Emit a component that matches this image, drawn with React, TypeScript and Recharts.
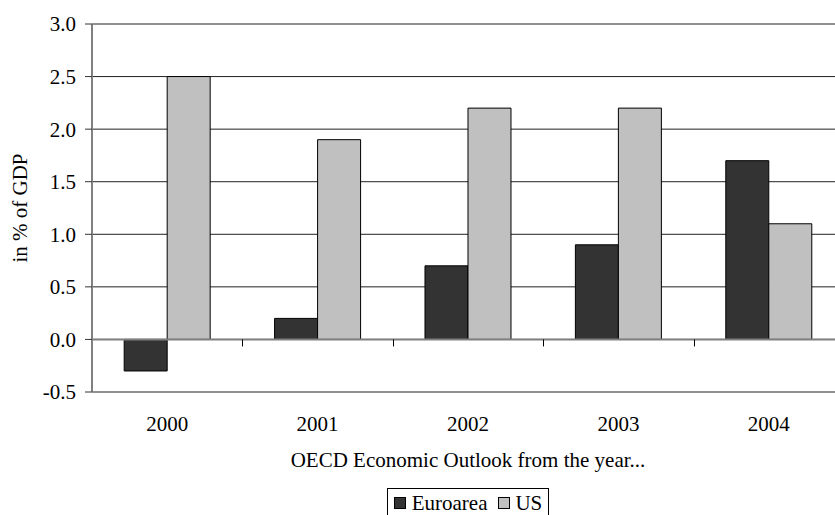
import React from 'react';
import {
  BarChart,
  Bar,
  XAxis,
  YAxis,
  CartesianGrid,
  Legend,
  ReferenceLine,
} from 'recharts';

// Forecast balances by outlook year, in % of GDP
const years = ['2000', '2001', '2002', '2003', '2004'];
const euroarea = [-0.3, 0.2, 0.7, 0.9, 1.7];
const us = [2.5, 1.9, 2.2, 2.2, 1.1];
const yTicks = [-0.5, 0, 0.5, 1, 1.5, 2, 2.5, 3];

const data = years.map((year, i) => ({
  year,
  Euroarea: euroarea[i],
  US: us[i],
}));

const FONT = '"Liberation Serif", "Times New Roman", serif';
const FONT_SIZE = 21;

// Serif face for every text element in the chart
const fontCss = `
  .chart-root, .chart-root text, .chart-root tspan, .chart-root .recharts-legend-wrapper {
    font-family: "Liberation Serif", "Times New Roman", serif !important;
  }
`;

// Zero line with small category-boundary ticks hanging below it
const ZeroAxis = (props: any) => {
  const { x1, y1, x2, y2 } = props;
  const step = (x2 - x1) / years.length;
  const marks = [];
  for (let i = 0; i <= years.length; i++) {
    const x = Math.round(x1 + i * step) + 0.5;
    marks.push(
      <line key={i} x1={x} y1={y1} x2={x} y2={y1 + 7} stroke="#000" strokeWidth={1} />
    );
  }
  return (
    <g>
      <line x1={x1} y1={y1} x2={x2} y2={y2} stroke="#808080" strokeWidth={2} />
      {marks}
    </g>
  );
};

const renderLegend = (props: any) => {
  const { payload } = props;
  return (
    <div style={{ display: 'flex', justifyContent: 'center' }}>
      <div
        style={{
          display: 'inline-flex',
          alignItems: 'center',
          border: '1px solid #000',
          padding: '2px 6px 12px 6px',
          background: '#fff',
          fontFamily: FONT,
          fontSize: FONT_SIZE,
          lineHeight: '24px',
          color: '#000',
        }}
      >
        {(payload || []).map((entry: any, i: number) => (
          <span
            key={entry.value}
            style={{ display: 'inline-flex', alignItems: 'center', marginLeft: i ? 11 : 0 }}
          >
            <span
              style={{
                width: 12,
                height: 12,
                boxSizing: 'border-box',
                background: entry.color,
                border: '1px solid #000',
                marginRight: i ? 5 : 6,
              }}
            />
            <span>{entry.value}</span>
          </span>
        ))}
      </div>
    </div>
  );
};

export default function App() {
  return (
    <div
      className="chart-root"
      style={{
        position: 'absolute',
        left: 8,
        top: 8,
        width: 827,
        height: 507,
        overflow: 'hidden',
        background: '#fff',
        fontFamily: FONT,
      }}
    >
      <style>{fontCss}</style>
      <BarChart
        width={860}
        height={540}
        data={data}
        margin={{ top: 16, right: 24, bottom: 96, left: 0 }}
        barCategoryGap="21.4%"
        barGap={0}
      >
        <CartesianGrid vertical={false} stroke="#222" strokeWidth={1} />
        <XAxis
          dataKey="year"
          axisLine={false}
          tickLine={false}
          tickSize={0}
          tickMargin={24}
          height={60}
          tick={{ fontSize: FONT_SIZE, fill: '#000' }}
          label={{
            value: 'OECD Economic Outlook from the year...',
            position: 'bottom',
            offset: 0,
            style: { fontSize: FONT_SIZE, fill: '#000' },
          }}
        />
        <YAxis
          width={84}
          domain={[-0.5, 3]}
          ticks={yTicks}
          interval={0}
          allowDataOverflow
          tickFormatter={(v: number) => v.toFixed(1)}
          axisLine={{ stroke: '#808080', strokeWidth: 2 }}
          tickLine={{ stroke: '#333', strokeWidth: 1 }}
          tickSize={7}
          tickMargin={9}
          tick={{ fontSize: FONT_SIZE, fill: '#000' }}
          label={{
            value: 'in % of GDP',
            angle: -90,
            position: 'insideLeft',
            offset: 12,
            style: { fontSize: FONT_SIZE, fill: '#000', textAnchor: 'middle' },
          }}
        />
        <Bar
          dataKey="Euroarea"
          name="Euroarea"
          fill="#333333"
          stroke="#000"
          strokeWidth={1}
          isAnimationActive={false}
        />
        <Bar
          dataKey="US"
          name="US"
          fill="#C0C0C0"
          stroke="#000"
          strokeWidth={1}
          isAnimationActive={false}
        />
        <ReferenceLine y={0} shape={ZeroAxis} ifOverflow="visible" />
        <Legend
          layout="horizontal"
          verticalAlign="middle"
          align="center"
          content={renderLegend}
          wrapperStyle={{ top: 480, left: 84, width: 752 }}
        />
      </BarChart>
    </div>
  );
}
